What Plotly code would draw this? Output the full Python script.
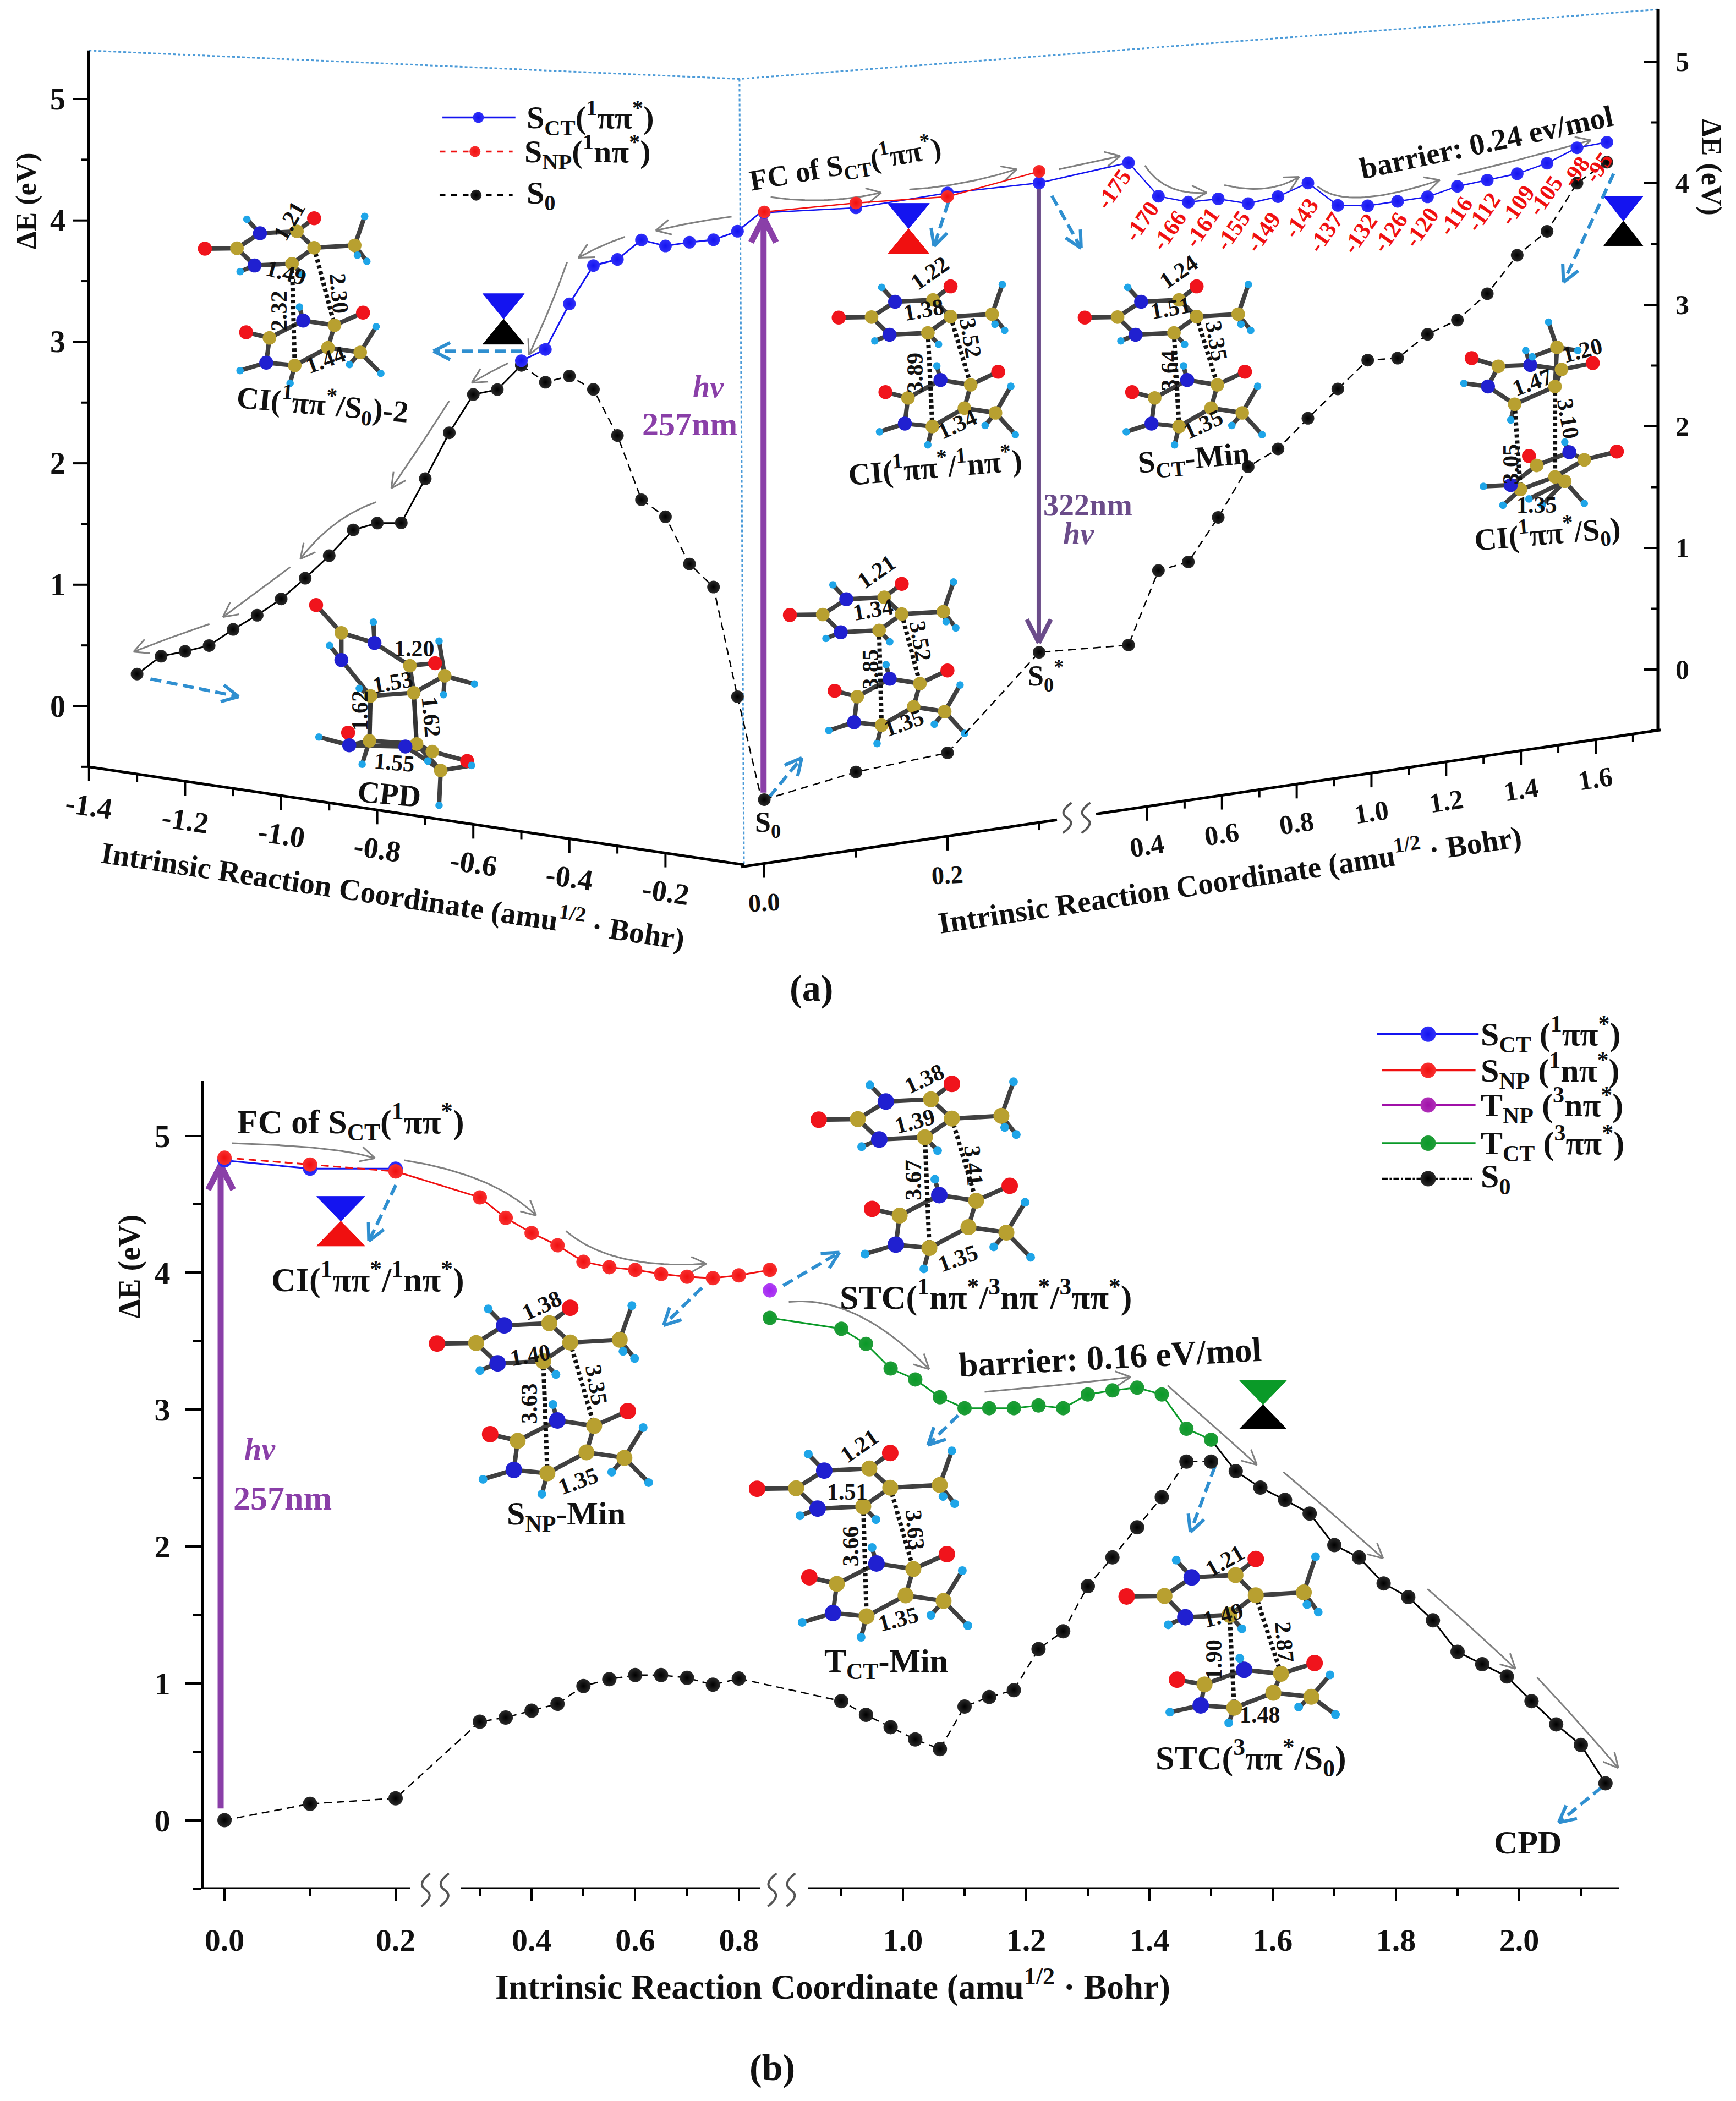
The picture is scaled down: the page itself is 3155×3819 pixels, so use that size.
import math
import numpy as np
import plotly.graph_objects as go

W, H = 3155, 3819
FONT = "Liberation Serif"

# ---------- DATA: panel (a), left branch ----------
a_left_x = [-1.3,-1.25,-1.2,-1.15,-1.1,-1.05,-1.0,-0.95,-0.9,-0.85,-0.8,-0.75,-0.7,-0.65,-0.6,-0.55,-0.5]
a_left_s0_solid = [0.324,0.50,0.57,0.647,0.81,0.956,1.12,1.32,1.535,1.777,1.863,1.894,2.288,2.695,3.04,3.11,3.34]
a_left_s0_dash_x = [-0.5,-0.45,-0.4,-0.35,-0.3,-0.25,-0.2,-0.15,-0.1,-0.05,0.0]
a_left_s0_dash = [3.34,3.23,3.31,3.23,2.88,2.38,2.27,1.91,1.75,0.876,0.06]
a_left_sct_x = [-0.5,-0.45,-0.4,-0.35,-0.3,-0.25,-0.2,-0.15,-0.1,-0.05,0.0]
a_left_sct = [3.377,3.50,3.905,4.25,4.33,4.52,4.50,4.56,4.61,4.71,4.90]

# ---------- DATA: panel (a), right branch ----------
a_right_x = [0.0,0.1,0.2,0.3,0.35,0.43,0.51,0.59,0.67,0.75,0.83,0.91,0.99,1.07,1.15,1.23,1.31,1.39,1.47,1.55,1.63]
a_right_sct = [4.853,4.78,4.79,4.76,4.817,4.505,4.42,4.41,4.335,4.355,4.43,4.21,4.17,4.17,4.17,4.22,4.234,4.25,4.30,4.39,4.40]
a_right_snp_x = [0.0,0.1,0.2,0.3]
a_right_snp = [4.859,4.82,4.76,4.855]
a_right_s0 = [0.025,0.14,0.185,0.90,0.85,1.426,1.46,1.79,2.17,2.28,2.495,2.70,2.90,2.88,3.04,3.12,3.30,3.58,3.74,4.10,4.235]
a_dihedral_labels = ["-175","-170","-166","-161","-155","-149","-143","-137","-132","-126","-120","-116","-112","-109","-105","-98","-95"]

# ---------- DATA: panel (b) ----------
b_sct_x = [0.0,0.1,0.2]
b_sct = [4.82,4.76,4.76]
b_snp_dash_x = [0.0,0.1,0.2]
b_snp_dash = [4.84,4.79,4.74]
b_snp_x = [0.2,0.3,0.35,0.4,0.45,0.5,0.55,0.6,0.65,0.7,0.75,0.8,0.86]
b_snp = [4.74,4.55,4.40,4.29,4.20,4.08,4.04,4.02,3.99,3.97,3.96,3.98,4.02]
b_tnp_x = [0.86]
b_tnp = [3.87]
b_tct_x = [0.86,0.9,0.94,0.98,1.02,1.06,1.1,1.14,1.18,1.22,1.26,1.3,1.34,1.38,1.42,1.46,1.5]
b_tct = [3.67,3.59,3.48,3.30,3.22,3.09,3.01,3.01,3.01,3.03,3.01,3.11,3.14,3.16,3.11,2.86,2.78]
b_s0_dash_x = [0.0,0.1,0.2,0.3,0.35,0.4,0.45,0.5,0.55,0.6,0.65,0.7,0.75,0.8,0.9,0.94,0.98,1.02,1.06,1.1,1.14,1.18,1.22,1.26,1.3,1.34,1.38,1.42,1.46,1.5]
b_s0_dash = [0.0,0.12,0.16,0.72,0.75,0.80,0.85,0.98,1.03,1.06,1.06,1.04,0.99,1.035,0.87,0.77,0.68,0.59,0.52,0.83,0.90,0.95,1.25,1.38,1.71,1.92,2.14,2.36,2.62,2.62]
b_s0_solid_x = [1.5,1.54,1.58,1.62,1.66,1.7,1.74,1.78,1.82,1.86,1.9,1.94,1.98,2.02,2.06,2.1,2.14]
b_s0_solid = [2.78,2.55,2.43,2.34,2.24,2.01,1.92,1.73,1.63,1.46,1.23,1.14,1.05,0.87,0.70,0.55,0.27]
y_ticks = [0,1,2,3,4,5]

# ---------- colours ----------
BLUE, RED, PURPLE, GREEN, BLACK = "#1414f0", "#f01010", "#a010a8", "#0a9a28", "#000000"
GRAY, SKY, VIOLET, DULL = "#808080", "#2f8fd0", "#8a3fa8", "#6b4c8a"
ATOM = {"O": ("#f0141c", 30), "C": ("#b8a030", 29), "N": ("#2020d0", 30), "H": ("#1fa5e8", 16)}
SHINE = {BLUE: "#3030f8", RED: "#f83030", GREEN: "#209c38", BLACK: "#2a2a2a", "#a020f0": "#b040f4", PURPLE: "#b030b8"}


# ---------- zoom-reading converters (reference pixels) ----------
def z1(x, y): return (x * 1.0204, y * 1.148)
def z2(x, y): return (1300 + x * 1.183, y * 1.148)
def z3(x, y): return (x * 1.0204, 1800 + y * 1.2876)
def z4(x, y): return (1400 + x * 1.1193, 1800 + y * 1.2876)


# ---------- scales ----------
def uL(t): return 1384 + 873 * np.asarray(t, float)
def vL(u, E): return np.asarray(E, float) - 0.1495 * (np.asarray(u, float) - 161) / 220.7
R_KX, R_KU = [0, 0.3, 0.35, 1.8], [1389, 1888.5, 2051, 3035.8]
def uR(t): return np.interp(t, R_KX, R_KU)
def vR(u, E): return np.asarray(E, float) + 0.149 * (np.asarray(u, float) - 3013) / 221
B_KX = [-0.1, 0, 0.2, 0.3, 0.863, 0.9, 1.0, 2.3]
B_KU = [252.5, 408, 719, 872, 1402, 1529, 1641, 3097]
def uB(t): return np.interp(t, B_KX, B_KU)


fig = go.Figure()
ann = []


def page(x, y, **kw):
    fig.add_trace(go.Scatter(x=x, y=y, xaxis="x", yaxis="y", hoverinfo="skip", showlegend=False, **kw))


def txt(p, s, size=50, angle=0, color="#111111", bold=True, italic=False, xa="x", ya="y", anchor="center"):
    f = dict(family=FONT, size=size, color=color)
    f["weight"] = 700 if bold else 400
    if italic:
        f["style"] = "italic"
    ann.append(dict(x=float(p[0]), y=float(p[1]), xref=xa, yref=ya, text=s, showarrow=False, font=f,
                    textangle=angle, xanchor=anchor, yanchor="middle"))


def head(p0, p1, L, spread=27):
    a = math.atan2(p1[1] - p0[1], p1[0] - p0[0])
    xs, ys = [], []
    for s in (spread, -spread):
        b = a + math.pi + math.radians(s)
        xs += [p1[0] + L * math.cos(b), p1[0], None]
        ys += [p1[1] + L * math.sin(b), p1[1], None]
    return xs, ys


def arrow(p0, p1, color=GRAY, width=3, L=30, dash=None, ctrl=None):
    if ctrl is not None:
        s = np.linspace(0, 1, 30)
        xs = (1 - s) ** 2 * p0[0] + 2 * s * (1 - s) * ctrl[0] + s ** 2 * p1[0]
        ys = (1 - s) ** 2 * p0[1] + 2 * s * (1 - s) * ctrl[1] + s ** 2 * p1[1]
        ref = (xs[-4], ys[-4])
    else:
        xs, ys = np.array([p0[0], p1[0]]), np.array([p0[1], p1[1]])
        ref = p0
    page(list(xs), list(ys), mode="lines", line=dict(color=color, width=width, dash=dash))
    hx, hy = head(ref, p1, L)
    page(hx, hy, mode="lines", line=dict(color=color, width=width))


# ---------- molecules ----------
TOP = {"O2": (-71, 1), "C2": (0, 0), "N1": (51, -32), "H1": (22, -62), "C4": (133, -36), "O4": (171, -64),
       "C5": (171, -1), "CM": (261, -6), "Ha": (283, -68), "Hb": (288, 28), "Hc": (267, 15),
       "N3": (39, 37), "H3": (7, 50), "C6": (122, 33), "H6": (145, 57)}
LOW = {"O2": (-50, -12), "C2": (0, 0), "N1": (72, -37), "H1": (64, -66), "C4": (139, -27), "O4": (200, -54),
       "C5": (125, 21), "CM": (194, 31), "Ha": (228, -24), "Hb": (238, 76), "Hc": (171, 57),
       "N3": (-7, 53), "H3": (-63, 70), "C6": (54, 59), "H6": (44, 97)}
BONDS = [("O2","C2"),("C2","N1"),("N1","H1"),("N1","C4"),("C4","O4"),("C4","C5"),("C5","CM"),("CM","Ha"),
         ("CM","Hb"),("CM","Hc"),("C5","C6"),("C6","N3"),("N3","C2"),("N3","H3"),("C6","H6")]
mols = []
dots = []


def place(tpl, anchor, sx=1.0, sy=1.0):
    return {k: (anchor[0] + v[0] * sx, anchor[1] + v[1] * sy) for k, v in tpl.items()}


def dimer(top, low, d1=("C6", "C6"), d2=("C5", "C4"), solid=False, k=0.85):
    mols.append((top, k))
    mols.append((low, k))
    dots.append((top[d1[0]], low[d1[1]], solid))
    dots.append((top[d2[0]], low[d2[1]], solid))


dimer(place(TOP, z1(422, 393), .82, .85), place(LOW, z1(480, 535), .85, .85))
dimer(place(TOP, z2(165, 973), .84, .87), place(LOW, z2(218, 1103), .82, .88))
dimer(place(TOP, z2(240, 502), .84, .87), place(LOW, z2(296, 630), .82, .88))
dimer(place(TOP, z2(618, 502), .84, .87), place(LOW, z2(675, 630), .82, .88))
dimer(place(TOP, z3(848, 498), 1, 1), place(LOW, z3(922, 636), 1, 1), k=1)
dimer(place(TOP, z4(142, 182), 1, 1), place(LOW, z4(210, 318), 1, 1), k=1)
dimer(place(TOP, z3(1418, 703), 1, 1), place(LOW, z4(108, 838), 1, 1), k=1)
dimer(place(TOP, z4(640, 855), .97, 1.05), place(LOW, z4(705, 980), 1, .72), k=1)


def custom(fn, d):
    return {k: fn(*v) for k, v in d.items()}


ci_top = custom(z2, {"O2":(1162,567),"C2":(1203,580),"N1":(1252,578),"H1":(1245,555),"C4":(1300,585),"O4":(1348,575),
                     "C5":(1290,612),"CM":(1293,550),"Ha":(1280,510),"Hb":(1255,565),"Hc":(1325,555),
                     "N3":(1187,612),"H3":(1150,607),"C6":(1228,640),"H6":(1222,665)})
ci_low = custom(z2, {"O2":(1250,722),"C2":(1262,737),"N1":(1312,716),"H1":(1305,700),"C4":(1335,728),"O4":(1385,715),
                     "C5":(1290,755),"CM":(1305,762),"Ha":(1335,797),"Hb":(1270,800),"Hc":(1250,790),
                     "N3":(1222,768),"H3":(1180,770),"C6":(1237,775),"H6":(1210,800)})
dimer(ci_top, ci_low, d2=("C5", "C5"))
cpd_top = custom(z1, {"O2":(563,958),"C2":(608,1002),"N1":(667,1018),"H1":(665,985),"C4":(730,1054),"O4":(775,1050),
                      "C5":(737,1097),"CM":(792,1070),"Ha":(782,1015),"Hb":(845,1083),"Hc":(790,1100),
                      "N3":(608,1045),"H3":(587,1022),"C6":(660,1102),"H6":(640,1090)})
cpd_low = custom(z1, {"O2":(620,1160),"C2":(622,1180),"N1":(722,1182),"H1":(762,1205),"C4":(770,1190),"O4":(832,1205),
                      "C5":(742,1178),"CM":(785,1220),"Ha":(840,1212),"Hb":(782,1275),"Hc":(762,1205),
                      "N3":(622,1180),"H3":(568,1167),"C6":(658,1173),"H6":(645,1210)})
dimer(cpd_top, cpd_low, d2=("C5", "C5"), solid=True)

bx, by = [], []
for m, _ in mols:
    for a, b in BONDS:
        bx += [m[a][0], m[b][0], None]
        by += [m[a][1], m[b][1], None]
page(bx, by, mode="lines", line=dict(color="#404040", width=8))
sx, sy, dx, dy = [], [], [], []
for p, q, solid in dots:
    (sx if solid else dx).extend([p[0], q[0], None])
    (sy if solid else dy).extend([p[1], q[1], None])
page(sx, sy, mode="lines", line=dict(color="#333333", width=8))
page(dx, dy, mode="lines", line=dict(color="#111111", width=8, dash="6px,5px"))
for el, (c, s) in ATOM.items():
    pts = [(v, k) for m, k in mols for n, v in m.items() if n[0] == el]
    page([p[0][0] for p in pts], [p[0][1] for p in pts], mode="markers",
         marker=dict(color=c, size=[s * p[1] for p in pts], opacity=1, line=dict(width=0)))

# molecule numeric labels: (converter, x, y, text, angle)
NUMS = [
 (z1,515,350,"1.21",-60),(z1,510,432,"1.49",15),(z1,497,492,"2.32",-90),(z1,604,465,"2.30",85),(z1,580,570,"1.44",-20),
 (z2,248,905,"1.21",-35),(z2,243,965,"1.34",-10),(z2,238,1060,"3.85",-90),(z2,315,1015,"3.52",80),(z2,290,1145,"1.35",-20),
 (z2,330,432,"1.22",-35),(z2,320,490,"1.38",-10),(z2,307,590,"3.89",-90),(z2,392,535,"3.52",80),(z2,372,672,"1.34",-25),
 (z2,712,430,"1.24",-35),(z2,700,488,"1.51",-10),(z2,697,587,"3.64",-90),(z2,770,540,"3.35",80),(z2,750,672,"1.35",-25),
 (z2,1332,555,"1.20",-15),(z2,1255,605,"1.47",-20),(z2,1222,735,"3.05",-90),(z2,1310,663,"3.10",80),(z2,1262,800,"1.35",0),
 (z1,738,1027,"1.20",0),(z1,700,1080,"1.53",-10),(z1,640,1125,"1.62",-90),(z1,768,1135,"1.62",85),(z1,703,1207,"1.55",5),
 (z3,965,445,"1.38",-25),(z3,945,515,"1.40",-10),(z3,942,583,"3.63",-90),(z3,1062,557,"3.35",80),(z3,1030,693,"1.35",-20),
 (z4,250,125,"1.38",-25),(z4,235,185,"1.39",-15),(z4,232,268,"3.67",-90),(z4,330,248,"3.41",85),(z4,305,378,"1.35",-20),
 (z4,145,643,"1.21",-35),(z4,125,708,"1.51",0),(z4,130,785,"3.66",-90),(z4,235,762,"3.63",85),(z4,208,888,"1.35",-15),
 (z4,738,805,"1.21",-30),(z4,735,882,"1.49",-15),(z4,720,945,"1.90",-90),(z4,835,920,"2.87",85),(z4,795,1023,"1.48",0),
]
for fn, x, y, s, ang in NUMS:
    txt(fn(x, y), s, size=42, angle=ang)

# state labels
PI = "ππ<sup>*</sup>"
NP = "nπ<sup>*</sup>"
LABELS = [
 (z1,575,640,f"CI(<sup>1</sup>{PI}/S<sub>0</sub>)-2",56,5),
 (z2,338,737,f"CI(<sup>1</sup>{PI}/<sup>1</sup>{NP})",56,-5),
 (z2,735,728,"S<sub>CT</sub>-Min",56,-5),
 (z2,1278,845,f"CI(<sup>1</sup>{PI}/S<sub>0</sub>)",56,-5),
 (z1,693,1257,"CPD",56,5),
 (z1,1368,1305,"S<sub>0</sub>",52,0),
 (z2,508,1070,"S<sub>0</sub><sup>*</sup>",52,0),
 (z2,200,260,f"FC of S<sub>CT</sub>(<sup>1</sup>{PI})",53,-10),
 (z2,1185,225,"barrier: 0.24 ev/mol",55,-12),
 (z3,625,185,f"FC of S<sub>CT</sub>(<sup>1</sup>{PI})",62,0),
 (z3,655,405,f"CI(<sup>1</sup>{PI}/<sup>1</sup>{NP})",62,0),
 (z3,1008,742,"S<sub>NP</sub>-Min",60,0),
 (z4,350,430,f"STC(<sup>1</sup>{NP}/<sup>3</sup>{NP}/<sup>3</sup>{PI})",62,0),
 (z4,552,518,"barrier: 0.16 eV/mol",63,-3),
 (z4,188,950,"T<sub>CT</sub>-Min",60,0),
 (z4,780,1083,f"STC(<sup>3</sup>{PI}/S<sub>0</sub>)",62,0),
 (z4,1230,1203,"CPD",60,0),
]
for fn, x, y, s, size, ang in LABELS:
    txt(fn(x, y), s, size=size, angle=ang)

txt(z1(1262, 612), "hv", 56, color=VIOLET, italic=True)
txt(z1(1228, 672), "257nm", 60, color=VIOLET)
txt(z2(572, 800), "322nm", 56, color=DULL)
txt(z2(558, 845), "hv", 56, color=DULL, italic=True)
txt(z3(463, 648), "hv", 56, color=VIOLET, italic=True)
txt(z3(503, 717), "257nm", 62, color=VIOLET)
txt((1474, 1796), "(a)", 68)
txt((1403, 3758), "(b)", 68)

# axis titles
AXT = "Intrinsic Reaction Coordinate (amu<sup>1/2</sup> · Bohr)"
txt(z1(700, 1415), AXT, 55, angle=8.5)
txt(z2(790, 1390), AXT, 55, angle=-8.5)
txt((1513, 3607), AXT, 63)
txt(z1(47, 318), "ΔE (eV)", 52, angle=-90)
txt(z2(1530, 265), "ΔE (eV)", 52, angle=90)
txt(z3(230, 390), "ΔE (eV)", 56, angle=-90)

# dotted frame of panel (a)
page([z1(158, 80)[0], z1(1317, 125)[0], z2(1448, 15)[0]], [z1(158, 80)[1], z1(1317, 125)[1], z2(1448, 15)[1]],
     mode="lines", line=dict(color="#4a9ad8", width=3, dash="5px,4px"))
page([z1(1317, 125)[0], z1(1325, 1370)[0]], [z1(1317, 125)[1], z1(1325, 1370)[1]],
     mode="lines", line=dict(color="#4a9ad8", width=3, dash="5px,4px"))

# bowties (conical intersections)
TIES = [(z1, 897, 505, 37, 40, BLUE, BLACK), (z2, 297, 362, 32, 40, BLUE, RED), (z2, 1395, 350, 30, 39, BLUE, BLACK),
        (z3, 607, 326, 43, 35, BLUE, RED), (z4, 800, 585, 38, 34, GREEN, BLACK)]
for fn, x, y, a, b, c1, c2 in TIES:
    for sgn, c in ((-1, c1), (1, c2)):
        p = [fn(x, y), fn(x - a, y + sgn * b), fn(x + a, y + sgn * b), fn(x, y)]
        page([q[0] for q in p], [q[1] for q in p], mode="lines", fill="toself", fillcolor=c, line=dict(color=c, width=1))

# gray process arrows
for fn, p0, c, p1 in [
    (z1,(1303,343),(1240,350),(1168,365)),(z1,(1113,375),(1070,388),(1030,408)),(z1,(1010,415),(985,480),(942,562)),
    (z1,(905,575),(870,590),(840,606)),(z1,(800,635),(750,705),(697,773)),(z1,(670,795),(590,820),(535,885)),
    (z1,(517,898),(460,935),(397,977)),(z1,(373,988),(300,1010),(238,1032)),
    (z2,(85,312),(170,325),(255,305)),(z2,(298,300),(380,295),(463,268)),(z2,(528,268),(575,258),(622,247)),
    (z2,(660,262),(690,310),(755,305)),(z2,(782,293),(850,310),(897,280)),(z2,(925,295),(970,335),(1113,285)),
    (z2,(1140,277),(1250,250),(1345,222)),
    (z3,(413,216),(600,220),(668,237)),(z3,(720,240),(880,260),(955,318)),(z3,(1008,340),(1090,395),(1258,386)),
    (z4,(30,440),(140,430),(258,535)),(z4,(348,567),(470,558),(585,546)),(z4,(645,558),(720,615),(790,670)),
    (z4,(833,680),(915,740),(995,802)),(z4,(1067,845),(1140,900),(1210,958)),(z4,(1245,970),(1310,1030),(1377,1098)),
]:
    arrow(fn(*p0), fn(*p1), ctrl=fn(*c), color=GRAY, width=3, L=30)

# blue dashed arrows
for fn, p0, p1 in [
    (z1,(930,556),(772,556)),(z1,(268,1075),(425,1103)),(z1,(1370,1262),(1428,1200)),
    (z2,(358,320),(336,390)),(z2,(517,310),(562,393)),(z2,(1380,275),(1303,447)),
    (z3,(705,275),(657,354)),(z3,(1250,420),(1182,473)),(z3,(1395,417),(1495,370)),
    (z4,(305,600),(256,642)),(z4,(722,672),(682,765)),(z4,(1350,1125),(1280,1175)),
]:
    arrow(fn(*p0), fn(*p1), color=SKY, width=6, L=34, dash="20px,10px")

# excitation / emission arrows
arrow(z1(1360, 1255), z1(1360, 345), color=VIOLET, width=11, L=50)
arrow(z2(497, 295), z2(497, 1018), color=DULL, width=8, L=48)
arrow(z3(393, 1155), z3(393, 247), color=VIOLET, width=11, L=50)


# axis-break squiggles
def squiggle(cx, cy, h):
    for d in (-17, 17):
        page([cx + d + 8, cx + d - 7, cx + d + 7, cx + d - 8], [cy - h / 2, cy - h / 6, cy + h / 6, cy + h / 2],
             mode="lines", line=dict(color="#555555", width=4, shape="spline", smoothing=1.3))


for p, h in ((z2(555, 1295), 55), (z3(775, 1270), 60), (z3(1392, 1270), 60)):
    squiggle(p[0], p[1], h)


def ball(color, size):
    return dict(color=SHINE.get(color, color), size=size, opacity=1, line=dict(width=0),
                gradient=dict(type="radial", color=color))


# legends drawn as keys in the page
def key(x0, x1, xm, y, color, dash, text, tx, size, ms):
    page([x0, x1], [y, y], mode="lines", line=dict(color=color if dash != "dashdot" else BLACK, width=3.5, dash=dash))
    page([xm], [y], mode="markers", marker=ball(color, ms))
    txt((tx, y), text, size, anchor="left")


for z, col, d, s, (x0, x1, xm, tx) in [
    (186, BLUE, None, f"S<sub>CT</sub>(<sup>1</sup>{PI})", (788, 918, 852, 936)),
    (240, RED, "dash", f"S<sub>NP</sub>(<sup>1</sup>{NP})", (783, 913, 846, 932)),
    (309, BLACK, "dash", "S<sub>0</sub>", (783, 913, 848, 936)),
]:
    y = z * 1.148
    key(z1(x0, 0)[0], z1(x1, 0)[0], z1(xm, 0)[0], y, col, d, s, z1(tx, 0)[0], 58, 20)
for z, col, d, s, x0, x1 in [
    (62, BLUE, None, f"S<sub>CT</sub> (<sup>1</sup>{PI})", 985, 1150),
    (113, RED, None, f"S<sub>NP</sub> (<sup>1</sup>{NP})", 993, 1145),
    (162, PURPLE, None, f"T<sub>NP</sub> (<sup>3</sup>{NP})", 993, 1145),
    (216, GREEN, None, f"T<sub>CT</sub> (<sup>3</sup>{PI})", 993, 1145),
    (266, BLACK, "dashdot", "S<sub>0</sub>", 993, 1140),
]:
    y = 1800 + z * 1.2876
    key(z4(x0, 0)[0], z4(x1, 0)[0], z4(1068, 0)[0], y, col, d, s, z4(1152, 0)[0], 60, 28)


# ---------- panel (a) drawing ----------
def left(x, y, **kw):
    fig.add_trace(go.Scatter(x=x, y=y, xaxis="x2", yaxis="y2", hoverinfo="skip", showlegend=False, **kw))


def right(x, y, **kw):
    fig.add_trace(go.Scatter(x=x, y=y, xaxis="x2", yaxis="y3", hoverinfo="skip", showlegend=False, **kw))


def ball_trim(color, size, n):
    m = ball(color, size)
    m["size"] = [size] * (n - 1) + [0]
    return m


u = uL(a_left_x)
left(list(u), list(vL(u, a_left_s0_solid)), mode="lines+markers", line=dict(color=BLACK, width=3), marker=ball(BLACK, 23))
u = uL(a_left_s0_dash_x)
left(list(u), list(vL(u, a_left_s0_dash)), mode="lines+markers", line=dict(color=BLACK, width=2.5, dash="14px,9px"),
     marker=ball_trim(BLACK, 23, len(u)))
u = uL(a_left_sct_x)
left(list(u), list(vL(u, a_left_sct)), mode="lines+markers", line=dict(color=BLUE, width=3), marker=ball_trim(BLUE, 23, len(u)))

u = uR(a_right_x)
right(list(u), list(vR(u, a_right_s0)), mode="lines+markers", line=dict(color=BLACK, width=2.5, dash="14px,9px"), marker=ball(BLACK, 23))
right(list(u), list(vR(u, a_right_sct)), mode="lines+markers", line=dict(color=BLUE, width=2.5), marker=ball(BLUE, 23))
u2 = uR(a_right_snp_x)
right(list(u2), list(vR(u2, a_right_snp)), mode="lines+markers", line=dict(color=RED, width=2.5), marker=ball(RED, 23))

# sheared frame of panel (a): lines, ticks, labels
L0, L1 = 161, 1352
left([L0, L1], list(vL([L0, L1], [-0.5, -0.5])), mode="lines", line=dict(color=BLACK, width=5))
left([L0, L0], list(vL([L0, L0], [-0.5, 5.4])), mode="lines", line=dict(color=BLACK, width=5))
R0, RB0, RB1, R1 = 1347, 1921, 1992, 3018
for a, b in ((R0, RB0), (RB1, R1)):
    right([a, b], list(vR([a, b], [-0.5, -0.5])), mode="lines", line=dict(color=BLACK, width=5))
right([3013, 3013], list(vR([3013, 3013], [-0.5, 5.43])), mode="lines", line=dict(color=BLACK, width=5))

seg_x, seg_y = [], []
for i in range(13):
    t = -1.4 + 0.1 * i
    uu = float(uL(t))
    v = float(vL(uu, -0.5))
    d = (26 if i % 2 == 0 else 14) / 220.7
    seg_x += [uu, uu, None]; seg_y += [v, v - d, None]
for i in range(12):
    E = -0.5 + 0.5 * i
    v = float(vL(L0, E))
    d = 28 if i % 2 == 1 else 14
    seg_x += [L0, L0 - d, None]; seg_y += [v, v, None]
left(seg_x, seg_y, mode="lines", line=dict(color=BLACK, width=4))

seg_x, seg_y = [], []
for i in range(18):
    t = 0.1 * i
    uu = float(uR(t))
    v = float(vR(uu, -0.5))
    d = (26 if i % 2 == 0 else 14) / 221
    seg_x += [uu, uu, None]; seg_y += [v, v - d, None]
for i in range(12):
    E = -0.5 + 0.5 * i
    v = float(vR(3013, E))
    d = 26 if i % 2 == 1 else 13
    seg_x += [3013, 3013 - d, None]; seg_y += [v, v, None]
right(seg_x, seg_y, mode="lines", line=dict(color=BLACK, width=4))

for t in [-1.4, -1.2, -1.0, -0.8, -0.6, -0.4, -0.2]:
    uu = float(uL(t))
    txt((uu, float(vL(uu, -0.5)) - 0.32), f"{t:.1f}", 54, angle=8.5, xa="x2", ya="y2")
for t in [0.0, 0.2, 0.4, 0.6, 0.8, 1.0, 1.2, 1.4, 1.6]:
    uu = float(uR(t))
    txt((uu, float(vR(uu, -0.5)) - 0.32), f"{t:.1f}", 46 if t < 0.3 else 50, angle=-3 if t < 0.3 else -8.5, xa="x2", ya="y3")
for E in y_ticks:
    txt((105, float(vL(L0, E))), str(E), 56, xa="x2", ya="y2")
    txt((3057, float(vR(3013, E))), str(E), 50, xa="x2", ya="y3")

# dihedral labels follow the S_CT points
red_z = [(612,300),(655,350),(697,365),(748,360),(795,365),(842,368),(900,345),(938,368),(990,370),(1037,368),
         (1085,360),(1137,342),(1180,335),(1232,325),(1275,310),(1322,272),(1357,265)]
for s, (a, b) in zip(a_dihedral_labels, red_z):
    txt(z2(a, b), s, 42, angle=-55, color="#f01010")


# ---------- panel (b) drawing ----------
def low(x, y, **kw):
    fig.add_trace(go.Scatter(x=list(uB(x)), y=y, xaxis="x3", yaxis="y4", hoverinfo="skip", showlegend=False, cliponaxis=False, **kw))


for a, b in ((370, 745), (837, 1382), (1469, 2942)):
    fig.add_trace(go.Scatter(x=[a, b], y=[-0.5, -0.5], xaxis="x3", yaxis="y4", mode="lines", line=dict(color=BLACK, width=5),
                             hoverinfo="skip", showlegend=False, cliponaxis=False))

low(b_s0_dash_x, b_s0_dash, mode="lines+markers", line=dict(color=BLACK, width=2.5, dash="14px,9px"), marker=ball(BLACK, 26))
low(b_s0_solid_x, b_s0_solid, mode="lines+markers", line=dict(color=BLACK, width=3),
    marker={**ball(BLACK, 26), "size": [0] + [26] * (len(b_s0_solid) - 1)})
low(b_sct_x, b_sct, mode="lines+markers", line=dict(color=BLUE, width=3), marker=ball(BLUE, 26))
low(b_snp_dash_x, b_snp_dash, mode="lines+markers", line=dict(color=RED, width=3, dash="14px,8px"), marker=ball(RED, 26))
low(b_snp_x, b_snp, mode="lines+markers", line=dict(color=RED, width=3), marker=ball(RED, 26))
low(b_tct_x, b_tct, mode="lines+markers", line=dict(color=GREEN, width=3), marker=ball(GREEN, 26))
low(b_tnp_x, b_tnp, mode="markers", marker=ball("#a020f0", 26))

major = [0.0, 0.2, 0.4, 0.6, 0.8, 1.0, 1.2, 1.4, 1.6, 1.8, 2.0]
minor = [0.1, 0.3, 0.5, 0.7, 0.9, 1.1, 1.3, 1.5, 1.7, 1.9, 2.1]
TF = dict(family=FONT, size=58, color="#111111", weight=700)
blank = dict(visible=False, fixedrange=True, showgrid=False, zeroline=False)

fig.update_layout(
    width=W, height=H, margin=dict(l=0, r=0, t=0, b=0), autosize=False,
    paper_bgcolor="white", plot_bgcolor="rgba(0,0,0,0)", showlegend=False, annotations=ann,
    xaxis=dict(domain=[0, 1], range=[0, W], anchor="y", **blank),
    yaxis=dict(domain=[0, 1], range=[H, 0], anchor="x", **blank),
    xaxis2=dict(domain=[0, 1], range=[0, W], anchor="y2", **blank),
    yaxis2=dict(domain=[0, 1], range=[(1283.5 - H) / 220.7, 1283.5 / 220.7], anchor="x2", **blank),
    yaxis3=dict(domain=[0, 1], range=[(1217 - H) / 221, 1217 / 221], anchor="x2", **blank),
    xaxis3=dict(domain=[370 / W, 2942 / W], range=[370, 2942], anchor="y4", showgrid=False, zeroline=False, showline=False,
                ticks="outside", ticklen=22, tickwidth=4, tickcolor=BLACK, tickfont=TF,
                tickvals=[float(uB(t)) for t in major], ticktext=[f"{t:.1f}" for t in major], ticklabelstandoff=20,
                minor=dict(tickvals=[float(uB(t)) for t in minor], ticks="outside", ticklen=13, tickwidth=4, tickcolor=BLACK)),
    yaxis4=dict(domain=[1 - 3433 / H, 1 - 1965 / H], range=[-0.5, 5.4], anchor="x3", showgrid=False, zeroline=False,
                showline=True, linewidth=5, linecolor=BLACK,
                ticks="outside", ticklen=28, tickwidth=4, tickcolor=BLACK, tickfont=TF,
                tickvals=y_ticks, ticklabelstandoff=16,
                minor=dict(tickvals=[-0.5, 0.5, 1.5, 2.5, 3.5, 4.5], ticks="outside", ticklen=14, tickwidth=4, tickcolor=BLACK)),
)

fig.write_html("out.html", config={"displayModeBar": False}, post_script="document.body.style.margin='0';")
